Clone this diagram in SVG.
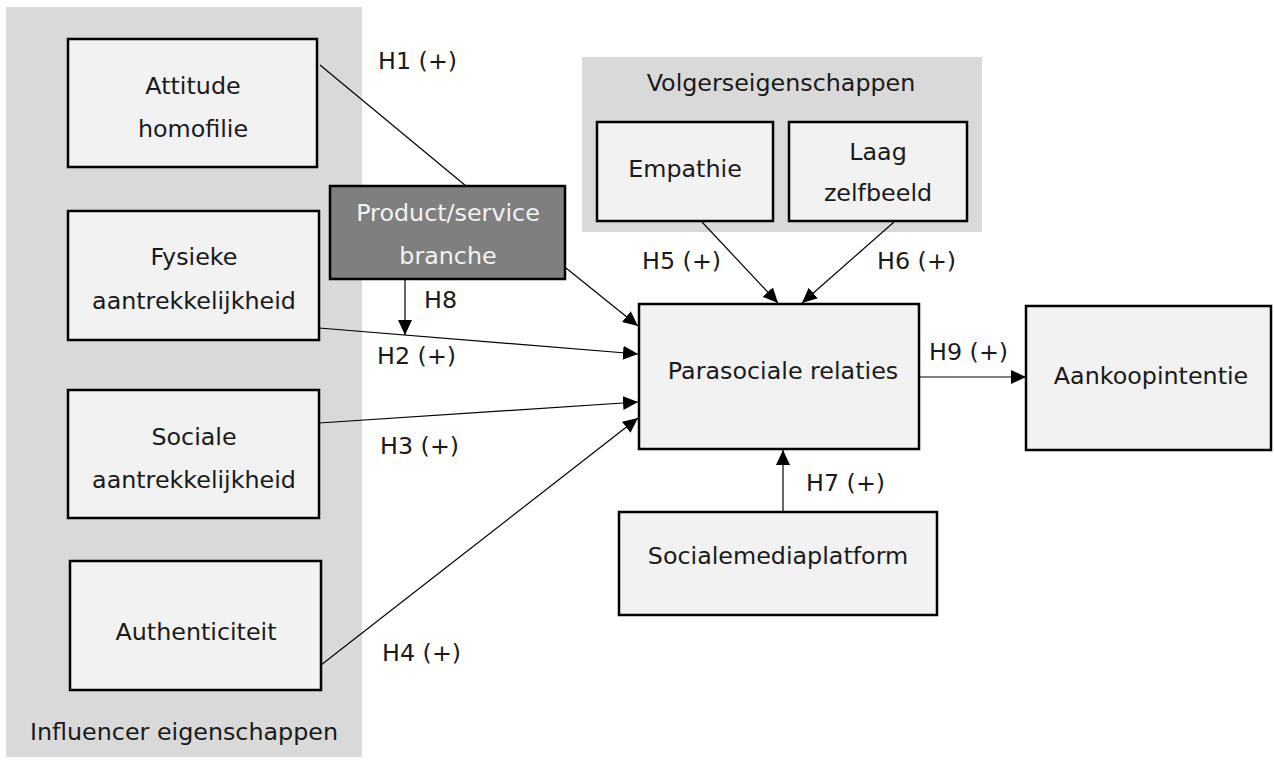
<svg xmlns="http://www.w3.org/2000/svg" width="1274" height="764" viewBox="0 0 1274 764">
<style>
text{font-family:"DejaVu Sans",Verdana,sans-serif;font-size:23.8px;fill:#1a1a1a}
.c{text-anchor:middle}
.box{fill:#f2f2f2;stroke:#000;stroke-width:2.5}
.dark{fill:#7f7f7f;stroke:#000;stroke-width:2.5}
.panel{fill:#d9d9d9}
.lnk{stroke:#000;stroke-width:1.2;fill:none}
.w{fill:#f2f2f2}
</style>
<defs>
<marker id="ah" viewBox="0 0 15 14" refX="15" refY="7" markerWidth="15" markerHeight="14" orient="auto" markerUnits="userSpaceOnUse">
<path d="M0,0 L15,7 L0,14 Z" fill="#000"/>
</marker>
</defs>
<g id="panel-influencer">
<rect class="panel" x="6" y="7" width="356" height="750"/>
<text class="c" x="184" y="740">Influencer eigenschappen</text>
</g>
<g id="panel-volger">
<rect class="panel" x="582" y="57" width="400" height="175"/>
<text class="c" x="781" y="91">Volgerseigenschappen</text>
</g>
<g id="connectors">
<line class="lnk" x1="320" y1="65" x2="466" y2="186"/>
<line class="lnk" x1="566" y1="268" x2="638" y2="326" marker-end="url(#ah)"/>
<line class="lnk" x1="405" y1="279" x2="405" y2="335" marker-end="url(#ah)"/>
<line class="lnk" x1="319" y1="328" x2="638" y2="354" marker-end="url(#ah)"/>
<line class="lnk" x1="319" y1="423" x2="638" y2="402" marker-end="url(#ah)"/>
<line class="lnk" x1="321" y1="665" x2="638" y2="418" marker-end="url(#ah)"/>
<line class="lnk" x1="702" y1="222" x2="778" y2="303" marker-end="url(#ah)"/>
<line class="lnk" x1="894" y1="222" x2="802" y2="303" marker-end="url(#ah)"/>
<line class="lnk" x1="783" y1="511" x2="783" y2="450" marker-end="url(#ah)"/>
<line class="lnk" x1="920" y1="377" x2="1026" y2="377" marker-end="url(#ah)"/>
<text x="378" y="69">H1 (+)</text>
<text x="377" y="364">H2 (+)</text>
<text x="380" y="454">H3 (+)</text>
<text x="382" y="661">H4 (+)</text>
<text x="642" y="269">H5 (+)</text>
<text x="877" y="269">H6 (+)</text>
<text x="806" y="491">H7 (+)</text>
<text x="424" y="308">H8</text>
<text x="929" y="360">H9 (+)</text>
</g>
<g id="attitude">
<rect class="box" x="68" y="39" width="249" height="128"/>
<text class="c" x="193" y="94">Attitude</text>
<text class="c" x="193" y="137">homofilie</text>
</g>
<g id="fysieke">
<rect class="box" x="68" y="211" width="251" height="129"/>
<text class="c" x="194" y="265">Fysieke</text>
<text class="c" x="194" y="309">aantrekkelijkheid</text>
</g>
<g id="sociale">
<rect class="box" x="68" y="390" width="251" height="128"/>
<text class="c" x="194" y="445">Sociale</text>
<text class="c" x="194" y="488">aantrekkelijkheid</text>
</g>
<g id="authenticiteit">
<rect class="box" x="70" y="561" width="251" height="129"/>
<text class="c" x="196" y="640">Authenticiteit</text>
</g>
<g id="product">
<rect class="dark" x="330" y="186" width="235" height="93"/>
<text class="c w" x="448" y="221">Product/service</text>
<text class="c w" x="448" y="264">branche</text>
</g>
<g id="empathie">
<rect class="box" x="597" y="122" width="176" height="99"/>
<text class="c" x="685" y="177">Empathie</text>
</g>
<g id="laag-zelfbeeld">
<rect class="box" x="789" y="122" width="178" height="99"/>
<text class="c" x="878" y="160">Laag</text>
<text class="c" x="878" y="201">zelfbeeld</text>
</g>
<g id="parasociale">
<rect class="box" x="639" y="304" width="280" height="145"/>
<text class="c" x="783" y="379">Parasociale relaties</text>
</g>
<g id="aankoop">
<rect class="box" x="1026" y="306" width="245" height="144"/>
<text class="c" x="1151" y="384">Aankoopintentie</text>
</g>
<g id="socialemedia">
<rect class="box" x="619" y="512" width="318" height="103"/>
<text class="c" x="778" y="564">Socialemediaplatform</text>
</g>
</svg>
